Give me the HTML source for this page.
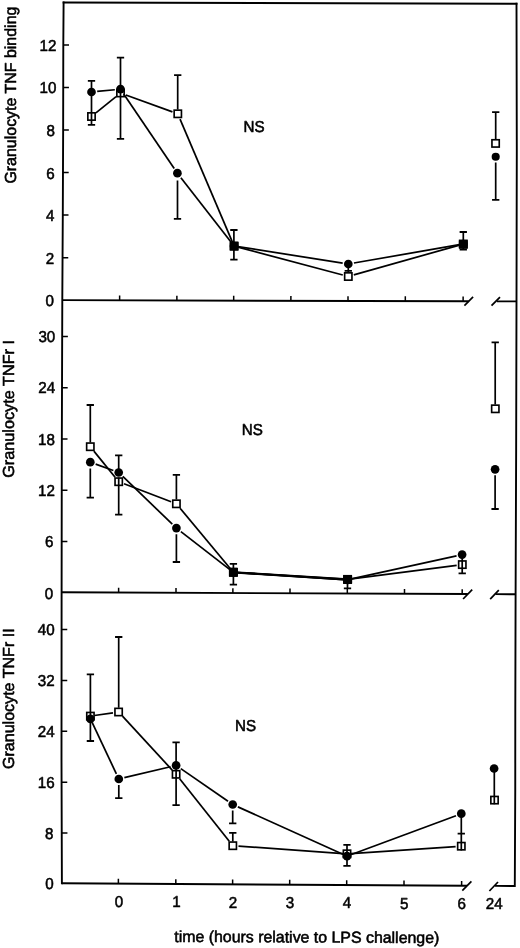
<!DOCTYPE html>
<html lang="en">
<head>
<meta charset="utf-8">
<title>Granulocyte TNF binding, TNFr I and TNFr II over time relative to LPS challenge</title>
<style>
html,body{margin:0;padding:0;background:#fff;}
body{width:520px;height:948px;overflow:hidden;}
svg{display:block;filter:grayscale(1);}
</style>
</head>
<body>
<svg width="520" height="948" viewBox="0 0 520 948">
<rect x="0" y="0" width="520" height="948" fill="#fff"/>
<g stroke="#000" fill="none">
<line x1="63.6" y1="2.45" x2="516.5" y2="3.7" stroke-width="1.9" stroke-linecap="square"/>
<polyline points="63.6,2.45 63.3,45 63.15,130 62.8,215 62.3,300 61.8,450 61.6,600 61.5,760 61.9,883.3" stroke-width="1.9" stroke-linecap="square" stroke-linejoin="round"/>
<polyline points="516.5,3.7 516.8,150 516.5,300 516.15,450 515.6,594 515.3,710 515.25,790 514.8,886" stroke-width="1.9" stroke-linecap="square" stroke-linejoin="round"/>
<line x1="62.3" y1="300.15" x2="468.7" y2="301.27" stroke-width="1.9" stroke-linecap="butt"/>
<line x1="496.9" y1="301.35" x2="516.5" y2="301.4" stroke-width="1.9" stroke-linecap="butt"/>
<line x1="464.4" y1="305.6" x2="473.1" y2="296.9" stroke-width="1.7" stroke-linecap="butt"/>
<line x1="491.5" y1="305.6" x2="500" y2="297.2" stroke-width="1.7" stroke-linecap="butt"/>
<line x1="61.61" y1="592.3" x2="467.9" y2="594.05" stroke-width="1.9" stroke-linecap="butt"/>
<line x1="495.6" y1="594.17" x2="515.6" y2="594.25" stroke-width="1.9" stroke-linecap="butt"/>
<line x1="463.1" y1="599" x2="472.2" y2="589.6" stroke-width="1.7" stroke-linecap="butt"/>
<line x1="490.2" y1="599.2" x2="498.8" y2="590.2" stroke-width="1.7" stroke-linecap="butt"/>
<line x1="61.9" y1="883.3" x2="467" y2="885.71" stroke-width="1.9" stroke-linecap="butt"/>
<line x1="495" y1="885.88" x2="514.8" y2="886" stroke-width="1.9" stroke-linecap="butt"/>
<line x1="462.3" y1="890.6" x2="471.4" y2="881.4" stroke-width="1.7" stroke-linecap="butt"/>
<line x1="489.4" y1="891" x2="498" y2="882" stroke-width="1.7" stroke-linecap="butt"/>
<line x1="119.6" y1="300.31" x2="119.61" y2="295.51" stroke-width="1.5" stroke-linecap="butt"/>
<line x1="176.9" y1="300.46" x2="176.91" y2="295.66" stroke-width="1.5" stroke-linecap="butt"/>
<line x1="233.7" y1="300.62" x2="233.71" y2="295.82" stroke-width="1.5" stroke-linecap="butt"/>
<line x1="290.9" y1="300.78" x2="290.91" y2="295.98" stroke-width="1.5" stroke-linecap="butt"/>
<line x1="348" y1="300.94" x2="348.01" y2="296.14" stroke-width="1.5" stroke-linecap="butt"/>
<line x1="405.3" y1="301.09" x2="405.31" y2="296.29" stroke-width="1.5" stroke-linecap="butt"/>
<line x1="463.1" y1="301.25" x2="463.11" y2="296.45" stroke-width="1.5" stroke-linecap="butt"/>
<line x1="118.6" y1="592.54" x2="118.61" y2="587.74" stroke-width="1.5" stroke-linecap="butt"/>
<line x1="176" y1="592.79" x2="176.01" y2="587.99" stroke-width="1.5" stroke-linecap="butt"/>
<line x1="232.9" y1="593.04" x2="232.91" y2="588.24" stroke-width="1.5" stroke-linecap="butt"/>
<line x1="290" y1="593.28" x2="290.01" y2="588.48" stroke-width="1.5" stroke-linecap="butt"/>
<line x1="347.3" y1="593.53" x2="347.31" y2="588.73" stroke-width="1.5" stroke-linecap="butt"/>
<line x1="404.5" y1="593.77" x2="404.51" y2="588.97" stroke-width="1.5" stroke-linecap="butt"/>
<line x1="462.2" y1="594.02" x2="462.21" y2="589.22" stroke-width="1.5" stroke-linecap="butt"/>
<line x1="118.4" y1="883.64" x2="118.41" y2="878.84" stroke-width="1.5" stroke-linecap="butt"/>
<line x1="175.8" y1="883.98" x2="175.81" y2="879.18" stroke-width="1.5" stroke-linecap="butt"/>
<line x1="232.6" y1="884.32" x2="232.61" y2="879.52" stroke-width="1.5" stroke-linecap="butt"/>
<line x1="289.7" y1="884.66" x2="289.71" y2="879.86" stroke-width="1.5" stroke-linecap="butt"/>
<line x1="346.7" y1="885" x2="346.71" y2="880.2" stroke-width="1.5" stroke-linecap="butt"/>
<line x1="404" y1="885.34" x2="404.01" y2="880.54" stroke-width="1.5" stroke-linecap="butt"/>
<line x1="461.6" y1="885.68" x2="461.61" y2="880.88" stroke-width="1.5" stroke-linecap="butt"/>
<line x1="63.3" y1="44.9" x2="69" y2="44.91" stroke-width="1.5" stroke-linecap="butt"/>
<line x1="63.23" y1="87.45" x2="68.93" y2="87.46" stroke-width="1.5" stroke-linecap="butt"/>
<line x1="63.15" y1="130" x2="68.85" y2="130.01" stroke-width="1.5" stroke-linecap="butt"/>
<line x1="62.97" y1="172.55" x2="68.67" y2="172.56" stroke-width="1.5" stroke-linecap="butt"/>
<line x1="62.8" y1="215.1" x2="68.5" y2="215.11" stroke-width="1.5" stroke-linecap="butt"/>
<line x1="62.55" y1="257.65" x2="68.25" y2="257.66" stroke-width="1.5" stroke-linecap="butt"/>
<line x1="62.18" y1="336.4" x2="67.88" y2="336.41" stroke-width="1.5" stroke-linecap="butt"/>
<line x1="62.01" y1="387.7" x2="67.71" y2="387.71" stroke-width="1.5" stroke-linecap="butt"/>
<line x1="61.84" y1="439" x2="67.54" y2="439.01" stroke-width="1.5" stroke-linecap="butt"/>
<line x1="61.75" y1="490.3" x2="67.45" y2="490.31" stroke-width="1.5" stroke-linecap="butt"/>
<line x1="61.68" y1="541.6" x2="67.38" y2="541.61" stroke-width="1.5" stroke-linecap="butt"/>
<line x1="61.58" y1="629.5" x2="67.28" y2="629.51" stroke-width="1.5" stroke-linecap="butt"/>
<line x1="61.55" y1="680.4" x2="67.25" y2="680.41" stroke-width="1.5" stroke-linecap="butt"/>
<line x1="61.52" y1="731.3" x2="67.22" y2="731.31" stroke-width="1.5" stroke-linecap="butt"/>
<line x1="61.57" y1="782.2" x2="67.27" y2="782.21" stroke-width="1.5" stroke-linecap="butt"/>
<line x1="61.74" y1="833.1" x2="67.44" y2="833.11" stroke-width="1.5" stroke-linecap="butt"/>
</g>
<g stroke="#000" fill="none">
<line x1="91.5" y1="80.8" x2="91.51" y2="124.9" stroke-width="1.7" stroke-linecap="butt"/>
<line x1="87.85" y1="80.8" x2="95.15" y2="80.81" stroke-width="1.8" stroke-linecap="butt"/>
<line x1="87.85" y1="124.9" x2="95.15" y2="124.91" stroke-width="1.8" stroke-linecap="butt"/>
<line x1="120.5" y1="57.7" x2="120.51" y2="138.8" stroke-width="1.7" stroke-linecap="butt"/>
<line x1="116.85" y1="57.7" x2="124.15" y2="57.71" stroke-width="1.8" stroke-linecap="butt"/>
<line x1="116.85" y1="138.8" x2="124.15" y2="138.81" stroke-width="1.8" stroke-linecap="butt"/>
<line x1="177.7" y1="75.1" x2="177.71" y2="109.5" stroke-width="1.7" stroke-linecap="butt"/>
<line x1="174.05" y1="75.1" x2="181.35" y2="75.11" stroke-width="1.8" stroke-linecap="butt"/>
<line x1="177.5" y1="180.6" x2="177.51" y2="218.9" stroke-width="1.7" stroke-linecap="butt"/>
<line x1="173.85" y1="218.9" x2="181.15" y2="218.91" stroke-width="1.8" stroke-linecap="butt"/>
<line x1="233.9" y1="230" x2="233.91" y2="259.6" stroke-width="1.7" stroke-linecap="butt"/>
<line x1="230.25" y1="230" x2="237.55" y2="230.01" stroke-width="1.8" stroke-linecap="butt"/>
<line x1="230.25" y1="259.6" x2="237.55" y2="259.61" stroke-width="1.8" stroke-linecap="butt"/>
<line x1="348.3" y1="263.8" x2="348.31" y2="272" stroke-width="1.7" stroke-linecap="butt"/>
<line x1="344.65" y1="270.8" x2="351.95" y2="270.81" stroke-width="1.8" stroke-linecap="butt"/>
<line x1="463.3" y1="232" x2="463.31" y2="249.6" stroke-width="1.7" stroke-linecap="butt"/>
<line x1="459.65" y1="232" x2="466.95" y2="232.01" stroke-width="1.8" stroke-linecap="butt"/>
<line x1="459.65" y1="249.6" x2="466.95" y2="249.61" stroke-width="1.8" stroke-linecap="butt"/>
<line x1="495.7" y1="112.2" x2="495.71" y2="139.1" stroke-width="1.7" stroke-linecap="butt"/>
<line x1="492.05" y1="112.2" x2="499.35" y2="112.21" stroke-width="1.8" stroke-linecap="butt"/>
<line x1="495.7" y1="162.6" x2="495.71" y2="199.8" stroke-width="1.7" stroke-linecap="butt"/>
<line x1="492.05" y1="199.8" x2="499.35" y2="199.81" stroke-width="1.8" stroke-linecap="butt"/>
<line x1="95.93" y1="112.91" x2="116.07" y2="96.59" stroke-width="1.72" stroke-linecap="butt"/>
<line x1="125.86" y1="94.94" x2="172.44" y2="111.86" stroke-width="1.72" stroke-linecap="butt"/>
<line x1="180.03" y1="119.04" x2="232.53" y2="242.42" stroke-width="1.72" stroke-linecap="butt"/>
<line x1="237.97" y1="247.13" x2="342.79" y2="275.03" stroke-width="1.72" stroke-linecap="butt"/>
<line x1="353.79" y1="274.95" x2="459.45" y2="245.09" stroke-width="1.72" stroke-linecap="butt"/>
<line x1="97.17" y1="91.45" x2="114.83" y2="89.75" stroke-width="1.72" stroke-linecap="butt"/>
<line x1="123.7" y1="93.92" x2="174.2" y2="168.48" stroke-width="1.72" stroke-linecap="butt"/>
<line x1="180.9" y1="177.7" x2="231.54" y2="242.84" stroke-width="1.72" stroke-linecap="butt"/>
<line x1="237.95" y1="246.62" x2="342.67" y2="263.11" stroke-width="1.72" stroke-linecap="butt"/>
<line x1="353.92" y1="263.02" x2="459.36" y2="244.69" stroke-width="1.72" stroke-linecap="butt"/>
<rect x="87.85" y="112.85" width="7.3" height="7.3" stroke-width="1.65"/>
<rect x="116.85" y="89.35" width="7.3" height="7.3" stroke-width="1.65"/>
<rect x="174.15" y="110.15" width="7.3" height="7.3" stroke-width="1.65"/>
<rect x="230.45" y="242.45" width="7.3" height="7.3" stroke-width="1.65"/>
<rect x="344.65" y="272.85" width="7.3" height="7.3" stroke-width="1.65"/>
<rect x="459.65" y="240.35" width="7.3" height="7.3" stroke-width="1.65"/>
<rect x="491.95" y="139.75" width="7.3" height="7.3" stroke-width="1.65"/>
</g>
<g fill="#000" stroke="none">
<circle cx="91.5" cy="92" r="4.35"/>
<circle cx="120.5" cy="89.2" r="4.35"/>
<circle cx="177.4" cy="173.2" r="4.35"/>
<circle cx="234" cy="246" r="4.35"/>
<circle cx="348.3" cy="264" r="4.35"/>
<circle cx="463.3" cy="244" r="4.35"/>
<rect x="229.75" y="241.85" width="8.7" height="8.7" rx="0.9"/>
<rect x="458.85" y="239.95" width="8.9" height="8.9" rx="0.9"/>
<circle cx="495.7" cy="156.8" r="4.05"/>
</g>
<g stroke="#000" fill="none">
<line x1="90.3" y1="405" x2="90.31" y2="442.4" stroke-width="1.7" stroke-linecap="butt"/>
<line x1="86.65" y1="405" x2="93.95" y2="405.01" stroke-width="1.8" stroke-linecap="butt"/>
<line x1="90.3" y1="468.4" x2="90.31" y2="497.6" stroke-width="1.7" stroke-linecap="butt"/>
<line x1="86.65" y1="497.6" x2="93.95" y2="497.61" stroke-width="1.8" stroke-linecap="butt"/>
<line x1="118.7" y1="455.4" x2="118.71" y2="472.5" stroke-width="1.7" stroke-linecap="butt"/>
<line x1="115.05" y1="455.4" x2="122.35" y2="455.41" stroke-width="1.8" stroke-linecap="butt"/>
<line x1="118.7" y1="477.4" x2="118.71" y2="514.6" stroke-width="1.7" stroke-linecap="butt"/>
<line x1="115.05" y1="514.6" x2="122.35" y2="514.61" stroke-width="1.8" stroke-linecap="butt"/>
<line x1="176.4" y1="474.8" x2="176.41" y2="499.5" stroke-width="1.7" stroke-linecap="butt"/>
<line x1="172.75" y1="474.8" x2="180.05" y2="474.81" stroke-width="1.8" stroke-linecap="butt"/>
<line x1="176.4" y1="534.3" x2="176.41" y2="562" stroke-width="1.7" stroke-linecap="butt"/>
<line x1="172.75" y1="562" x2="180.05" y2="562.01" stroke-width="1.8" stroke-linecap="butt"/>
<line x1="233.4" y1="563.8" x2="233.41" y2="584.6" stroke-width="1.7" stroke-linecap="butt"/>
<line x1="229.75" y1="563.8" x2="237.05" y2="563.81" stroke-width="1.8" stroke-linecap="butt"/>
<line x1="229.75" y1="584.6" x2="237.05" y2="584.61" stroke-width="1.8" stroke-linecap="butt"/>
<line x1="347.5" y1="579" x2="347.51" y2="588.4" stroke-width="1.7" stroke-linecap="butt"/>
<line x1="343.85" y1="588.4" x2="351.15" y2="588.41" stroke-width="1.8" stroke-linecap="butt"/>
<line x1="462.2" y1="554.6" x2="462.21" y2="573.3" stroke-width="1.7" stroke-linecap="butt"/>
<line x1="458.55" y1="573.3" x2="465.85" y2="573.31" stroke-width="1.8" stroke-linecap="butt"/>
<line x1="495.2" y1="342.4" x2="495.21" y2="404.5" stroke-width="1.7" stroke-linecap="butt"/>
<line x1="491.55" y1="342.4" x2="498.85" y2="342.41" stroke-width="1.8" stroke-linecap="butt"/>
<line x1="495.1" y1="475.3" x2="495.11" y2="509" stroke-width="1.7" stroke-linecap="butt"/>
<line x1="491.45" y1="509" x2="498.75" y2="509.01" stroke-width="1.8" stroke-linecap="butt"/>
<line x1="237.4" y1="572.6" x2="343.6" y2="579.2" stroke-width="2.45" stroke-linecap="butt"/>
<line x1="93.89" y1="451.13" x2="115.11" y2="477.27" stroke-width="1.72" stroke-linecap="butt"/>
<line x1="124.02" y1="483.74" x2="171.08" y2="501.76" stroke-width="1.72" stroke-linecap="butt"/>
<line x1="180.05" y1="508.18" x2="230.84" y2="569.23" stroke-width="1.72" stroke-linecap="butt"/>
<line x1="237.39" y1="572.55" x2="343.61" y2="579.15" stroke-width="1.72" stroke-linecap="butt"/>
<line x1="351.57" y1="578.89" x2="456.65" y2="565.33" stroke-width="1.72" stroke-linecap="butt"/>
<line x1="95.66" y1="464.14" x2="113.34" y2="470.56" stroke-width="1.72" stroke-linecap="butt"/>
<line x1="122.8" y1="476.46" x2="172.3" y2="524.14" stroke-width="1.72" stroke-linecap="butt"/>
<line x1="180.9" y1="531.59" x2="230.24" y2="569.85" stroke-width="1.72" stroke-linecap="butt"/>
<line x1="237.39" y1="572.56" x2="343.61" y2="579.54" stroke-width="1.72" stroke-linecap="butt"/>
<line x1="351.51" y1="578.94" x2="456.53" y2="555.83" stroke-width="1.72" stroke-linecap="butt"/>
<rect x="86.65" y="443.05" width="7.3" height="7.3" stroke-width="1.65"/>
<rect x="115.05" y="478.05" width="7.3" height="7.3" stroke-width="1.65"/>
<rect x="172.75" y="500.15" width="7.3" height="7.3" stroke-width="1.65"/>
<rect x="229.75" y="568.65" width="7.3" height="7.3" stroke-width="1.65"/>
<rect x="343.95" y="575.75" width="7.3" height="7.3" stroke-width="1.65"/>
<rect x="458.65" y="560.95" width="7.3" height="7.3" stroke-width="1.65"/>
<rect x="491.65" y="405.15" width="7.3" height="7.3" stroke-width="1.65"/>
</g>
<g fill="#000" stroke="none">
<circle cx="90.3" cy="462.2" r="4.35"/>
<circle cx="118.7" cy="472.5" r="4.35"/>
<circle cx="176.4" cy="528.1" r="4.35"/>
<circle cx="233.4" cy="572.3" r="4.35"/>
<circle cx="347.6" cy="579.8" r="4.35"/>
<circle cx="462.1" cy="554.6" r="4.35"/>
<rect x="228.95" y="567.85" width="8.9" height="8.9" rx="0.9"/>
<rect x="343.1" y="575" width="9" height="9" rx="0.9"/>
<circle cx="495.1" cy="469.3" r="4.35"/>
</g>
<g stroke="#000" fill="none">
<line x1="90.4" y1="674.4" x2="90.41" y2="741" stroke-width="1.7" stroke-linecap="butt"/>
<line x1="86.75" y1="674.4" x2="94.05" y2="674.41" stroke-width="1.8" stroke-linecap="butt"/>
<line x1="86.75" y1="741" x2="94.05" y2="741.01" stroke-width="1.8" stroke-linecap="butt"/>
<line x1="118.7" y1="637" x2="118.71" y2="707.7" stroke-width="1.7" stroke-linecap="butt"/>
<line x1="115.05" y1="637" x2="122.35" y2="637.01" stroke-width="1.8" stroke-linecap="butt"/>
<line x1="118.8" y1="785" x2="118.81" y2="798.1" stroke-width="1.7" stroke-linecap="butt"/>
<line x1="115.15" y1="798.1" x2="122.45" y2="798.11" stroke-width="1.8" stroke-linecap="butt"/>
<line x1="176.1" y1="742.4" x2="176.11" y2="805.2" stroke-width="1.7" stroke-linecap="butt"/>
<line x1="172.45" y1="742.4" x2="179.75" y2="742.41" stroke-width="1.8" stroke-linecap="butt"/>
<line x1="172.45" y1="805.2" x2="179.75" y2="805.21" stroke-width="1.8" stroke-linecap="butt"/>
<line x1="232.7" y1="810.5" x2="232.71" y2="823.4" stroke-width="1.7" stroke-linecap="butt"/>
<line x1="229.05" y1="823.4" x2="236.35" y2="823.41" stroke-width="1.8" stroke-linecap="butt"/>
<line x1="232.8" y1="832.8" x2="232.81" y2="841.4" stroke-width="1.7" stroke-linecap="butt"/>
<line x1="229.15" y1="832.8" x2="236.45" y2="832.81" stroke-width="1.8" stroke-linecap="butt"/>
<line x1="347" y1="844.9" x2="347.01" y2="865.8" stroke-width="1.7" stroke-linecap="butt"/>
<line x1="343.35" y1="844.9" x2="350.65" y2="844.91" stroke-width="1.8" stroke-linecap="butt"/>
<line x1="343.35" y1="865.8" x2="350.65" y2="865.81" stroke-width="1.8" stroke-linecap="butt"/>
<line x1="461.3" y1="813.7" x2="461.31" y2="850.5" stroke-width="1.7" stroke-linecap="butt"/>
<line x1="457.65" y1="833.6" x2="464.95" y2="833.61" stroke-width="1.8" stroke-linecap="butt"/>
<line x1="494.3" y1="768.5" x2="494.31" y2="804.2" stroke-width="1.7" stroke-linecap="butt"/>
<line x1="94.36" y1="715.52" x2="112.96" y2="712.82" stroke-width="1.72" stroke-linecap="butt"/>
<line x1="122.47" y1="716.19" x2="172.23" y2="770.11" stroke-width="1.72" stroke-linecap="butt"/>
<line x1="179.64" y1="778.76" x2="229.26" y2="841.24" stroke-width="1.72" stroke-linecap="butt"/>
<line x1="238.49" y1="846.1" x2="343.01" y2="853.52" stroke-width="1.72" stroke-linecap="butt"/>
<line x1="350.99" y1="853.53" x2="455.61" y2="846.58" stroke-width="1.72" stroke-linecap="butt"/>
<line x1="92.11" y1="722.42" x2="116.37" y2="773.84" stroke-width="1.72" stroke-linecap="butt"/>
<line x1="124.35" y1="777.68" x2="170.55" y2="766.72" stroke-width="1.72" stroke-linecap="butt"/>
<line x1="180.79" y1="768.64" x2="228.01" y2="801.26" stroke-width="1.72" stroke-linecap="butt"/>
<line x1="237.89" y1="806.85" x2="343.36" y2="854.55" stroke-width="1.72" stroke-linecap="butt"/>
<line x1="350.75" y1="854.81" x2="455.96" y2="815.69" stroke-width="1.72" stroke-linecap="butt"/>
<rect x="86.75" y="712.45" width="7.3" height="7.3" stroke-width="1.65"/>
<rect x="114.95" y="708.35" width="7.3" height="7.3" stroke-width="1.65"/>
<rect x="172.45" y="770.65" width="7.3" height="7.3" stroke-width="1.65"/>
<rect x="229.15" y="842.05" width="7.3" height="7.3" stroke-width="1.65"/>
<rect x="343.35" y="850.15" width="7.3" height="7.3" stroke-width="1.65"/>
<rect x="457.65" y="842.55" width="7.3" height="7.3" stroke-width="1.65"/>
<rect x="490.85" y="796.45" width="7.3" height="7.3" stroke-width="1.65"/>
</g>
<g fill="#000" stroke="none">
<circle cx="90.4" cy="718.8" r="4.35"/>
<circle cx="118.8" cy="779" r="4.35"/>
<circle cx="176.1" cy="765.4" r="4.35"/>
<circle cx="232.7" cy="804.5" r="4.35"/>
<circle cx="347" cy="856.2" r="4.35"/>
<circle cx="461.3" cy="813.7" r="4.35"/>
<circle cx="494.1" cy="768.5" r="4.35"/>
</g>
<g fill="#000" stroke="#000" stroke-width="0.55" stroke-linejoin="round" text-rendering="geometricPrecision" font-family="'Liberation Sans', Arial, sans-serif">
<text transform="translate(56.4 50.9) scale(0.96 1)" font-size="15.8" text-anchor="end">12</text>
<text transform="translate(56.33 93.45) scale(0.96 1)" font-size="15.8" text-anchor="end">10</text>
<text transform="translate(54.85 136) scale(0.96 1)" font-size="15.8" text-anchor="end">8</text>
<text transform="translate(54.67 178.55) scale(0.96 1)" font-size="15.8" text-anchor="end">6</text>
<text transform="translate(54.5 221.1) scale(0.96 1)" font-size="15.8" text-anchor="end">4</text>
<text transform="translate(54.25 263.65) scale(0.96 1)" font-size="15.8" text-anchor="end">2</text>
<text transform="translate(54 306.4) scale(0.96 1)" font-size="15.8" text-anchor="end">0</text>
<text transform="translate(55.28 342.1) scale(0.96 1)" font-size="15.8" text-anchor="end">30</text>
<text transform="translate(55.11 393.4) scale(0.96 1)" font-size="15.8" text-anchor="end">24</text>
<text transform="translate(54.94 444.7) scale(0.96 1)" font-size="15.8" text-anchor="end">18</text>
<text transform="translate(54.85 496) scale(0.96 1)" font-size="15.8" text-anchor="end">12</text>
<text transform="translate(53.38 547.3) scale(0.96 1)" font-size="15.8" text-anchor="end">6</text>
<text transform="translate(53.31 598.6) scale(0.96 1)" font-size="15.8" text-anchor="end">0</text>
<text transform="translate(54.68 635) scale(0.96 1)" font-size="15.8" text-anchor="end">40</text>
<text transform="translate(54.65 685.9) scale(0.96 1)" font-size="15.8" text-anchor="end">32</text>
<text transform="translate(54.62 736.8) scale(0.96 1)" font-size="15.8" text-anchor="end">24</text>
<text transform="translate(54.67 787.7) scale(0.96 1)" font-size="15.8" text-anchor="end">16</text>
<text transform="translate(53.44 838.6) scale(0.96 1)" font-size="15.8" text-anchor="end">8</text>
<text transform="translate(53.6 889.1) scale(0.96 1)" font-size="15.8" text-anchor="end">0</text>
<text transform="translate(119 906.8) scale(0.96 1)" font-size="15.8" text-anchor="middle">0</text>
<text transform="translate(176.4 907.2) scale(0.96 1)" font-size="15.8" text-anchor="middle">1</text>
<text transform="translate(233 907.6) scale(0.96 1)" font-size="15.8" text-anchor="middle">2</text>
<text transform="translate(290 908) scale(0.96 1)" font-size="15.8" text-anchor="middle">3</text>
<text transform="translate(347 908.4) scale(0.96 1)" font-size="15.8" text-anchor="middle">4</text>
<text transform="translate(404.1 908.8) scale(0.96 1)" font-size="15.8" text-anchor="middle">5</text>
<text transform="translate(461.8 909.2) scale(0.96 1)" font-size="15.8" text-anchor="middle">6</text>
<text transform="translate(494.3 909.43) scale(0.96 1)" font-size="15.8" text-anchor="middle">24</text>
<text transform="translate(254.1 131.6) scale(0.96 1)" font-size="15.8" text-anchor="middle">NS</text>
<text transform="translate(252.4 434.8) scale(0.96 1)" font-size="15.8" text-anchor="middle">NS</text>
<text transform="translate(245.5 731.3) scale(0.96 1)" font-size="15.8" text-anchor="middle">NS</text>
<text x="174.3" y="941.9" font-size="16" text-anchor="start" textLength="265" lengthAdjust="spacingAndGlyphs" transform="rotate(0.26 174.3 941.9)">time (hours relative to LPS challenge)</text>
<text transform="translate(15.8 183.6) rotate(-90)" font-size="16" textLength="177" lengthAdjust="spacingAndGlyphs">Granulocyte TNF binding</text>
<text transform="translate(14 477.8) rotate(-90)" font-size="16" textLength="137.8" lengthAdjust="spacingAndGlyphs">Granulocyte TNFr I</text>
<text transform="translate(13.7 769) rotate(-90)" font-size="16" textLength="140.6" lengthAdjust="spacingAndGlyphs">Granulocyte TNFr II</text>
</g>
</svg>
</body>
</html>
